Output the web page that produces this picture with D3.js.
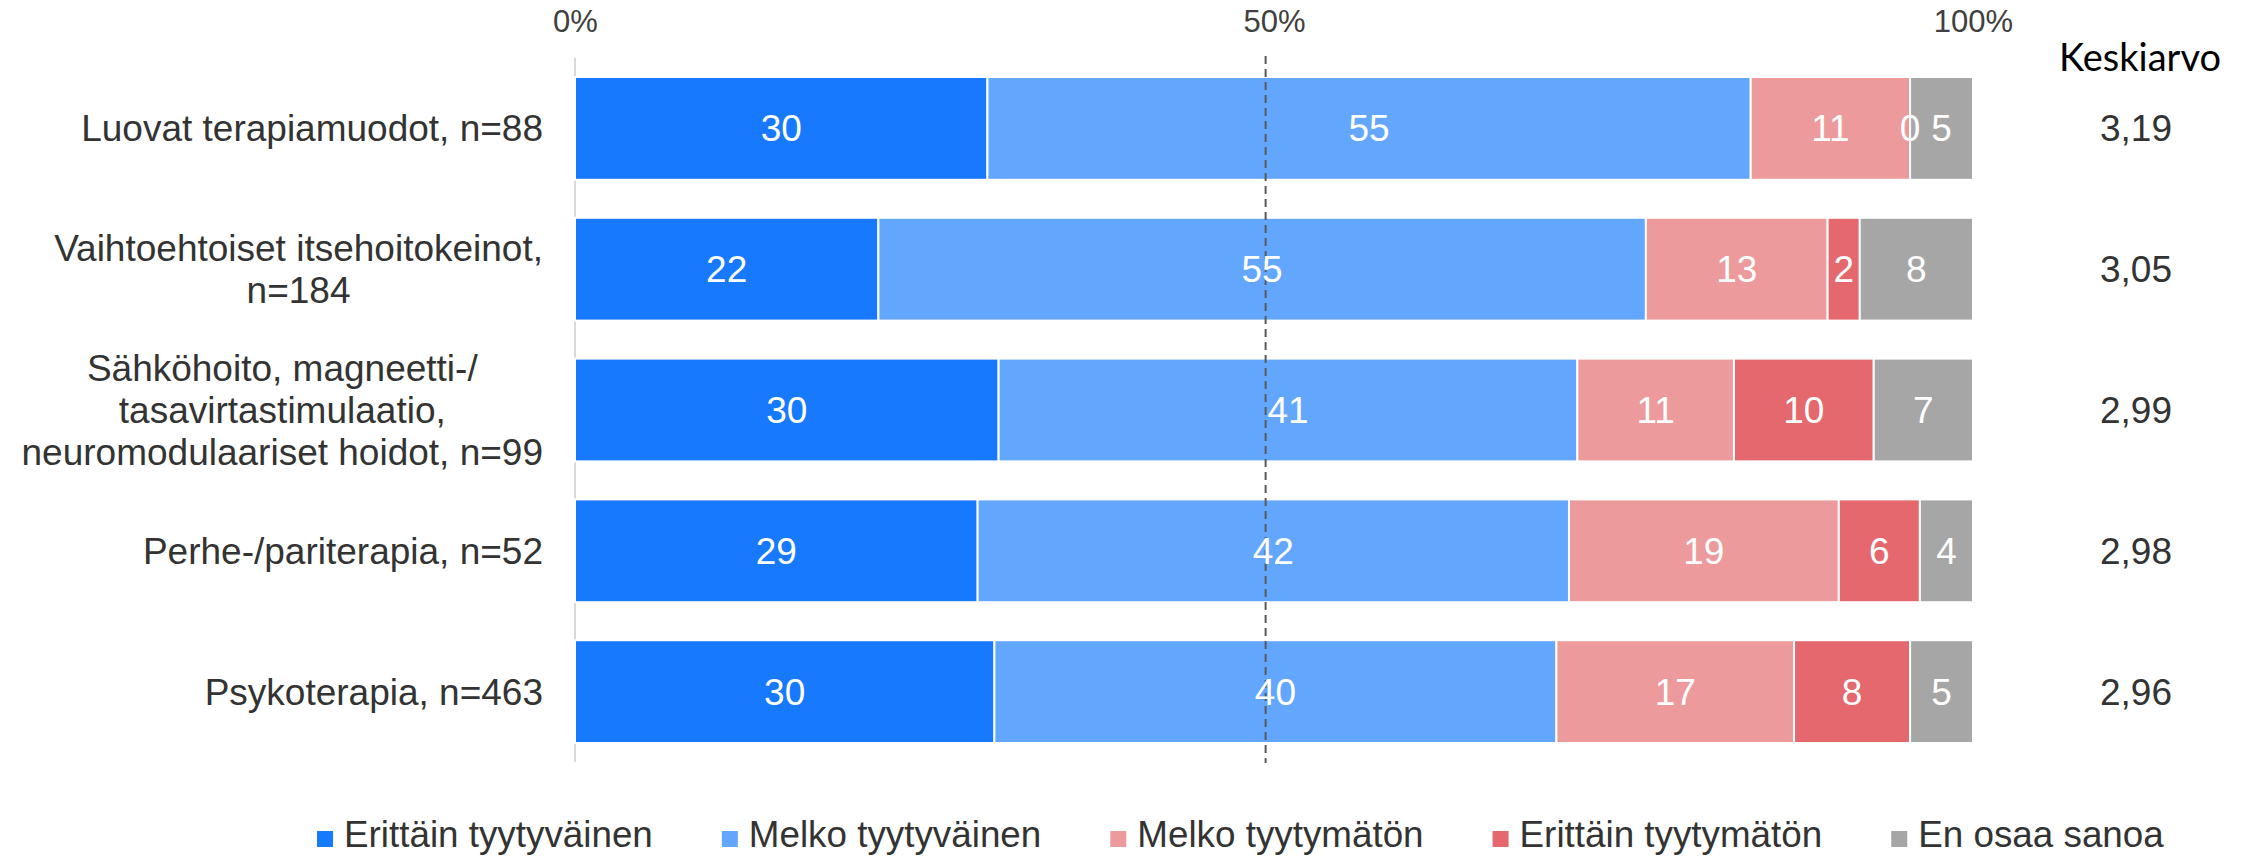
<!DOCTYPE html>
<html lang="fi">
<head>
<meta charset="utf-8">
<title>Tyytyväisyys hoitomuotoihin</title>
<script src="https://cdn.jsdelivr.net/npm/d3@7"></script>
<style>
    body { margin: 0; background: #fff; }
    svg { display: block; font-family: "Liberation Sans", Arial, sans-serif; }
</style>
</head>
<body>
<svg id="chart" width="2246" height="859"></svg>
<script>
// rivit (kategoriat), rivinvaihdot kuten alkuperäisessä
const categories = [
    ["Luovat terapiamuodot, n=88"],
    ["Vaihtoehtoiset itsehoitokeinot,", "n=184"],
    ["Sähköhoito, magneetti-/", "tasavirtastimulaatio,", "neuromodulaariset hoidot, n=99"],
    ["Perhe-/pariterapia, n=52"],
    ["Psykoterapia, n=463"]
];

const seriesNames = ["Erittäin tyytyväinen", "Melko tyytyväinen", "Melko tyytymätön", "Erittäin tyytymätön", "En osaa sanoa"];
const seriesColors = ["#1779fe", "#63a6fe", "#ec9a9c", "#e4686d", "#a6a6a6"];

// prosentit
const erittainTyytyvainen = [29.5, 21.7, 30.3, 28.8, 30.0];
const melkoTyytyvainen    = [54.6, 54.9, 41.4, 42.3, 40.2];
const melkoTyytymaton     = [11.4, 13.0, 11.2, 19.3, 17.0];
const erittainTyytymaton  = [0.0, 2.3, 10.0, 5.8, 8.3];
const enOsaaSanoa         = [4.5, 8.1, 7.1, 3.8, 4.5];

const keskiarvot = [3.19, 3.05, 2.99, 2.98, 2.96];
const tickValues = [0, 50, 100];
const refLine = 49.4; // katkoviiva on alkuperäisessä hieman 50 %:n vasemmalla puolella

const svg = d3.select("#chart");
const plotLeft = 575, plotRight = 1973, plotTop = 58, plotBottom = 762;

const seriesData = [erittainTyytyvainen, melkoTyytyvainen, melkoTyytymaton, erittainTyytymaton, enOsaaSanoa];
const rows = categories.map((c, i) => {
    const r = { idx: i };
    seriesNames.forEach((s, j) => r[s] = seriesData[j][i]);
    return r;
});

const x = d3.scaleLinear().domain([0, 100]).range([plotLeft, plotRight]);
const y = d3.scaleBand().domain(d3.range(categories.length)).range([plotTop, plotBottom])
    .paddingInner(0.27).paddingOuter(0.135);
const color = d3.scaleOrdinal().domain(seriesNames).range(seriesColors);

const stacked = d3.stack().keys(seriesNames)(rows);

// pystyakseli
svg.append("line")
    .attr("x1", x(0)).attr("x2", x(0))
    .attr("y1", plotTop).attr("y2", plotBottom)
    .attr("stroke", "#d9d9d9").attr("stroke-width", 2);

// palkit
svg.append("g").selectAll("g")
    .data(stacked)
    .join("g")
    .attr("fill", d => color(d.key))
    .selectAll("rect")
    .data(d => d)
    .join("rect")
    .attr("x", d => x(d[0]))
    .attr("y", d => y(d.data.idx))
    .attr("width", d => x(d[1]) - x(d[0]))
    .attr("height", y.bandwidth())
    .attr("stroke", "#fff")
    .attr("stroke-width", 2);

// katkoviiva
svg.append("line")
    .attr("x1", x(refLine)).attr("x2", x(refLine))
    .attr("y1", plotTop - 2).attr("y2", plotBottom + 1)
    .attr("stroke", "#595959").attr("stroke-width", 2)
    .attr("stroke-dasharray", "8,5");

// arvotunnisteet kaikkien palkkien päälle
svg.append("g").selectAll("g")
    .data(stacked)
    .join("g")
    .selectAll("text")
    .data(d => d)
    .join("text")
    .attr("x", d => (x(d[0]) + x(d[1])) / 2)
    .attr("y", d => y(d.data.idx) + y.bandwidth() / 2)
    .attr("dy", "0.35em")
    .attr("text-anchor", "middle")
    .attr("fill", "#fff")
    .attr("font-size", 37)
    .text(d => Math.round(d[1] - d[0]));

// yläakseli
const axis = svg.append("g")
    .attr("transform", `translate(0, 32)`)
    .call(d3.axisTop(x).tickValues(tickValues).tickFormat(d => d + "%").tickSize(0).tickPadding(0));
axis.select(".domain").remove();
axis.selectAll("text")
    .attr("font-size", 31)
    .attr("fill", "#404040")
    .attr("font-family", "'Liberation Sans', Arial, sans-serif")
    .attr("dy", 0);

// kategorioiden nimet (keskitetyt rivit, lohko oikealle tasattuna)
const labelRight = 543, lineHeight = 41.7;
categories.forEach((lines, i) => {
    const g = svg.append("g");
    const texts = lines.map((line, k) => g.append("text")
        .attr("y", y(i) + y.bandwidth() / 2 + (k - (lines.length - 1) / 2) * lineHeight)
        .attr("dy", "0.35em")
        .attr("text-anchor", "middle")
        .attr("font-size", 37)
        .attr("fill", "#333")
        .text(line));
    const maxW = d3.max(texts, t => t.node().getComputedTextLength());
    texts.forEach(t => t.attr("x", labelRight - maxW / 2));
});

// keskiarvot
const fmt = d3.formatLocale({ decimal: ",", thousands: " ", grouping: [3], currency: ["", " €"] }).format(".2f");
svg.append("text")
    .attr("x", 2140).attr("y", 71)
    .attr("text-anchor", "middle")
    .attr("font-family", "Lato, 'Open Sans', sans-serif")
    .attr("font-size", 38)
    .attr("fill", "#000")
    .text("Keskiarvo");

svg.append("g").selectAll("text")
    .data(keskiarvot)
    .join("text")
    .attr("x", 2136)
    .attr("y", (d, i) => y(i) + y.bandwidth() / 2)
    .attr("dy", "0.35em")
    .attr("text-anchor", "middle")
    .attr("font-size", 37)
    .attr("fill", "#333")
    .text(d => fmt(d));

// selite
const legend = svg.append("g").attr("transform", "translate(317, 847)");
let lx = 0;
seriesNames.forEach(name => {
    legend.append("rect")
        .attr("x", lx).attr("y", -16)
        .attr("width", 16).attr("height", 16)
        .attr("fill", color(name));
    const t = legend.append("text")
        .attr("x", lx + 27)
        .attr("font-size", 36.8)
        .attr("fill", "#333")
        .text(name);
    lx += 27 + t.node().getComputedTextLength() + 69;
});
</script>
</body>
</html>
